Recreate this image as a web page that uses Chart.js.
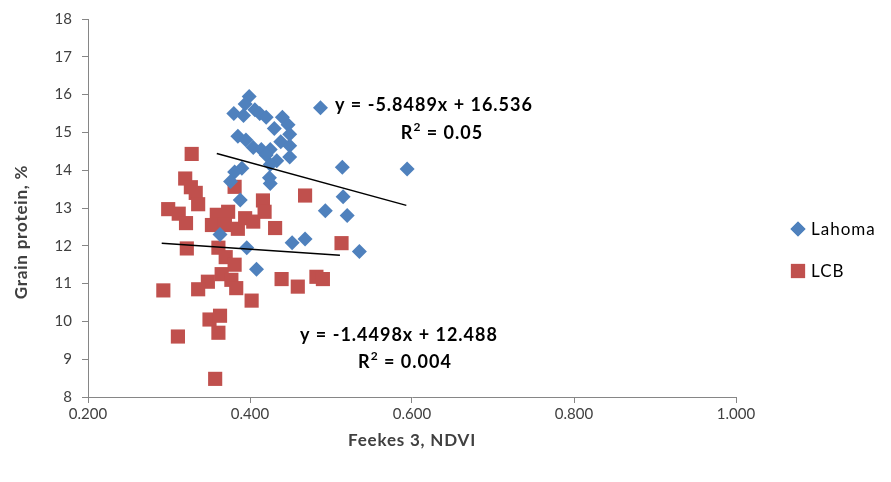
<!DOCTYPE html>
<html><head><meta charset="utf-8">
<script src="https://cdn.jsdelivr.net/npm/chart.js@4/dist/chart.umd.min.js"></script>
<style>html,body{margin:0;padding:0;background:#fff}#wrap{width:891px;height:482px;position:relative}</style>
</head><body><div id="wrap"><canvas id="c" width="891" height="482"></canvas></div>
<script>
const seriesNames = ['Lahoma', 'LCB'];
const lahomaX = [0.399,0.394,0.406,0.380,0.392,0.412,0.420,0.440,0.447,0.430,0.449,0.385,0.395,0.404,0.414,0.425,0.438,0.449,0.449,0.433,0.420,0.425,0.390,0.381,0.424,0.425,0.376,0.388,0.487,0.514,0.594,0.515,0.520,0.493,0.452,0.468,0.535,0.408,0.363,0.396];
const lahomaY = [15.95,15.75,15.60,15.50,15.45,15.50,15.40,15.40,15.20,15.10,14.95,14.90,14.80,14.60,14.55,14.55,14.75,14.65,14.35,14.25,14.40,14.15,14.05,13.95,13.80,13.65,13.70,13.21,15.65,14.08,14.03,13.30,12.80,12.93,12.08,12.18,11.85,11.38,12.30,11.95];
const lcbX = [0.328,0.320,0.327,0.333,0.336,0.299,0.312,0.321,0.359,0.373,0.353,0.369,0.385,0.394,0.381,0.404,0.416,0.418,0.431,0.468,0.513,0.322,0.361,0.370,0.381,0.365,0.377,0.383,0.348,0.336,0.293,0.402,0.350,0.363,0.361,0.311,0.357,0.439,0.459,0.482,0.490];
const lcbY = [14.43,13.78,13.55,13.40,13.10,12.97,12.85,12.60,12.82,12.90,12.55,12.55,12.45,12.73,13.56,12.64,13.20,12.90,12.47,13.33,12.07,11.93,11.95,11.70,11.50,11.25,11.10,10.88,11.05,10.85,10.82,10.55,10.05,10.15,9.70,9.60,8.48,11.12,10.92,11.18,11.12];
const lahomaTrendX = [0.359, 0.593];
const lahomaTrendY = [14.44, 13.07];
const lcbTrendX = [0.291, 0.511];
const lcbTrendY = [12.07, 11.75];
const xTicks = [0.2, 0.4, 0.6, 0.8, 1.0];
const yTicks = [8, 9, 10, 11, 12, 13, 14, 15, 16, 17, 18];
const eqLahoma = ['y = -5.8489x + 16.536', '0.05'];
const eqLcb = ['y = -1.4498x + 12.488', '0.004'];
const xTitle = 'Feekes 3, NDVI';
const yTitle = 'Grain protein, %';

const BLUE = '#4F81BD', RED = '#C0504D', AXIS = '#868686', TXT = '#404040';
const FONT = 'Lato, "Open Sans", sans-serif';

const pts = (xs, ys) => xs.map((x, i) => ({x, y: ys[i]}));

const overlay = {
  id: 'overlay',
  afterDraw(chart) {
    const ctx = chart.ctx;
    ctx.save();
    // legend
    const items = [{name: seriesNames[0], style: 'rectRot', r: 7.5, c: BLUE, y: 229},
                   {name: seriesNames[1], style: 'rect', r: 10, c: RED, y: 271}];
    ctx.font = '17px ' + FONT;
    ctx.letterSpacing = '1px';
    ctx.textBaseline = 'middle';
    ctx.textAlign = 'left';
    items.forEach(it => {
      ctx.fillStyle = it.c;
      Chart.helpers.drawPoint(ctx, {pointStyle: it.style, radius: it.r, borderWidth: 0}, 798, it.y);
      ctx.fill();
      ctx.fillStyle = '#000';
      ctx.fillText(it.name, 811, it.y + 1);
    });
    // equations
    ctx.letterSpacing = '1px';
    const eq = (lines, x1, y1, xr, y2) => {
      ctx.font = 'bold 18px ' + FONT;
      ctx.fillStyle = '#000';
      ctx.textAlign = 'left';
      ctx.fillText(lines[0], x1, y1);
      const pre = 'R', sup = '2', post = ' = ' + lines[1];
      const wR = ctx.measureText(pre).width;
      ctx.font = 'bold 12px ' + FONT;
      const wS = ctx.measureText(sup).width;
      ctx.font = 'bold 18px ' + FONT;
      const wP = ctx.measureText(post).width;
      const start = xr - (wR + wS + wP) / 2;
      ctx.fillText(pre, start, y2);
      ctx.font = 'bold 12px ' + FONT;
      ctx.fillText(sup, start + wR, y2 - 6);
      ctx.font = 'bold 18px ' + FONT;
      ctx.fillText(post, start + wR + wS, y2);
    };
    eq(eqLahoma, 335, 105, 442, 133);
    eq(eqLcb, 300, 335, 405, 362);
    // axis titles
    ctx.letterSpacing = '0.8px';
    ctx.font = 'bold 17px ' + FONT;
    ctx.fillStyle = TXT;
    ctx.textAlign = 'center';
    ctx.fillText(xTitle, 412, 441);
    ctx.translate(22, 232);
    ctx.rotate(-Math.PI / 2);
    ctx.fillText(yTitle, 0, 0);
    ctx.restore();
  }
};

new Chart(document.getElementById('c'), {
  type: 'scatter',
  data: {
    datasets: [
      {label: seriesNames[0], data: pts(lahomaX, lahomaY), pointStyle: 'rectRot', pointRadius: 7.5, pointHoverRadius: 7.5, backgroundColor: BLUE, borderWidth: 0, order: 2},
      {label: seriesNames[1], data: pts(lcbX, lcbY), pointStyle: 'rect', pointRadius: 10, pointHoverRadius: 10, backgroundColor: RED, borderWidth: 0, order: 3},
      {type: 'line', label: 'trend1', data: pts(lahomaTrendX, lahomaTrendY), borderColor: '#000', borderWidth: 1.5, pointRadius: 0, fill: false, order: 1},
      {type: 'line', label: 'trend2', data: pts(lcbTrendX, lcbTrendY), borderColor: '#000', borderWidth: 1.5, pointRadius: 0, fill: false, order: 1}
    ]
  },
  options: {
    responsive: false,
    animation: false,
    devicePixelRatio: 1,
    layout: {padding: {left: 0, right: 155, top: 19, bottom: 0}},
    plugins: {legend: {display: false}, tooltip: {enabled: false}},
    scales: {
      x: {
        type: 'linear', min: 0.2, max: 1.0,
        afterBuildTicks: s => { s.ticks = xTicks.map(v => ({value: v})); },
        afterFit: s => { s.height = 85; },
        ticks: {callback: v => v.toFixed(3), color: TXT, font: {family: FONT, size: 15}, padding: 2, maxRotation: 0},
        grid: {drawOnChartArea: false, drawTicks: true, tickLength: 6, color: AXIS},
        border: {color: AXIS, width: 1}
      },
      y: {
        type: 'linear', min: 8, max: 18,
        afterBuildTicks: s => { s.ticks = yTicks.map(v => ({value: v})); },
        afterFit: s => { s.width = 88; },
        ticks: {color: TXT, font: {family: FONT, size: 15}, padding: 10},
        grid: {drawOnChartArea: false, drawTicks: true, tickLength: 6, color: AXIS},
        border: {color: AXIS, width: 1}
      }
    }
  },
  plugins: [overlay]
});
</script></body></html>
